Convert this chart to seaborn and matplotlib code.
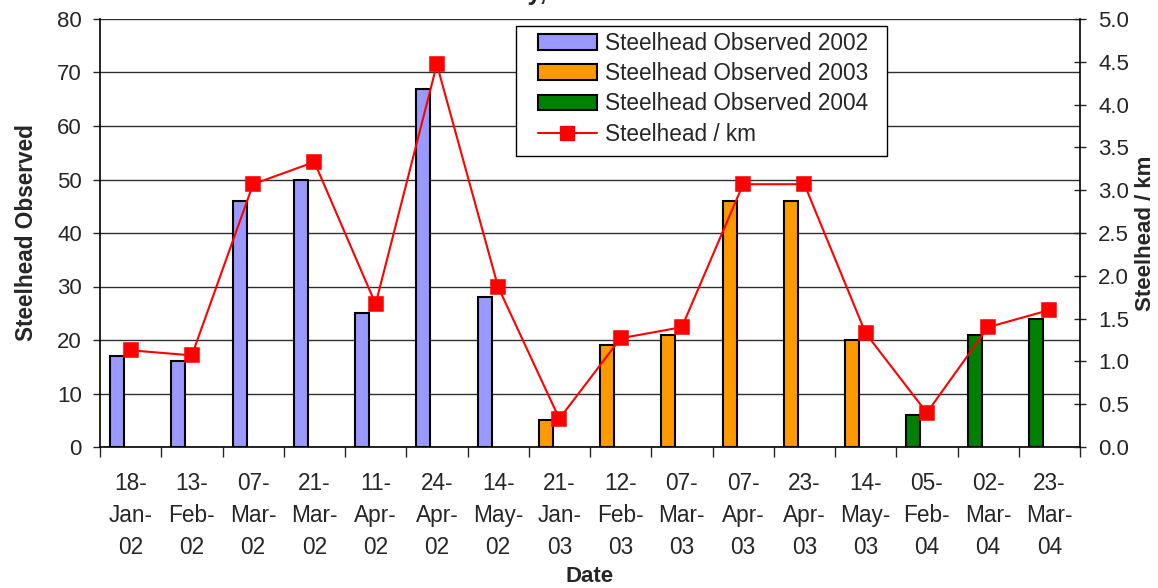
import matplotlib
matplotlib.use('Agg')
import matplotlib.pyplot as plt
import matplotlib.ticker as mticker
from matplotlib.patches import Patch, Rectangle
from matplotlib.lines import Line2D
import seaborn as sns
import pandas as pd

# survey dates (x categories)
dates = ['18-\nJan-\n02', '13-\nFeb-\n02', '07-\nMar-\n02', '21-\nMar-\n02',
         '11-\nApr-\n02', '24-\nApr-\n02', '14-\nMay-\n02', '21-\nJan-\n03',
         '12-\nFeb-\n03', '07-\nMar-\n03', '07-\nApr-\n03', '23-\nApr-\n03',
         '14-\nMay-\n03', '05-\nFeb-\n04', '02-\nMar-\n04', '23-\nMar-\n04']
years = ['2002'] * 7 + ['2003'] * 6 + ['2004'] * 3
observed = [17, 16, 46, 50, 25, 67, 28, 5, 19, 21, 46, 46, 20, 6, 21, 24]
per_km = [1.13, 1.07, 3.07, 3.33, 1.67, 4.47, 1.87, 0.33, 1.27, 1.40,
          3.07, 3.07, 1.33, 0.40, 1.40, 1.60]

year_colors = {'2002': '#9999FF', '2003': '#FF9900', '2004': '#008000'}

df = pd.DataFrame({'Date': dates, 'Year': years, 'Observed': observed, 'PerKm': per_km})

sns.set_style('ticks')
plt.rcParams['font.family'] = ['Liberation Sans', 'DejaVu Sans']
plt.rcParams['font.size'] = 16

W, H = 1158, 588
fig = plt.figure(figsize=(W / 100, H / 100), dpi=100)
ax = fig.add_axes([100 / W, 1 - 447 / H, 980 / W, 428 / H])

sns.barplot(data=df, x='Date', y='Observed', hue='Year', order=dates,
            palette=year_colors, saturation=1, dodge=False, width=0.23,
            edgecolor='black', linewidth=1.5, legend=False, ax=ax, zorder=3)
# bars sit on the left side of each date slot
for p in ax.patches:
    p.set_x(p.get_x() - 0.22)

ax.set_xlim(-0.5, len(dates) - 0.5)
ax.set_ylim(0, 80)
ax.set_yticks(range(0, 81, 10))
ax.yaxis.grid(True, color='#303030', linewidth=1)
ax.set_axisbelow(True)
ax.tick_params(axis='y', direction='out', length=5, width=1, labelsize=16, pad=8)
ax.tick_params(axis='x', which='major', length=0, labelsize=16.3, pad=18)
ax.set_xticks([i - 0.5 for i in range(len(dates) + 1)], minor=True)
ax.tick_params(axis='x', which='minor', direction='out', length=7, width=1)
for lbl in ax.get_xticklabels():
    lbl.set_linespacing(1.5)
ax.set_xlabel('Date', fontweight='bold', fontsize=16, labelpad=5)
ax.set_ylabel('Steelhead Observed', fontweight='bold', fontsize=16.3, labelpad=14)
for s in ['top', 'right']:
    ax.spines[s].set_visible(False)
ax.spines['left'].set_linewidth(1.2)
ax.spines['bottom'].set_linewidth(1.2)
ax.spines['left'].set_color('black')
ax.spines['bottom'].set_color('black')

ax2 = ax.twinx()
sns.pointplot(data=df, x='Date', y='PerKm', order=dates, color='#FF0000',
              marker='s', markersize=10, linewidth=1.5, ax=ax2)
ax2.set_xlim(-0.5, len(dates) - 0.5)
ax2.set_ylim(0, 5)
ax2.yaxis.set_major_locator(mticker.MultipleLocator(0.5))
ax2.yaxis.set_major_formatter(mticker.FormatStrFormatter('%.1f'))
ax2.tick_params(axis='y', direction='inout', length=8, width=1, labelsize=16, pad=9)
ax2.set_ylabel('Steelhead / km', fontweight='bold', fontsize=16, labelpad=4.5)
ax2.grid(False)
for s in ['top', 'left', 'bottom']:
    ax2.spines[s].set_visible(False)
ax2.spines['right'].set_linewidth(1.2)
ax2.spines['right'].set_color('black')

# legend: white box with black border, entries placed inside it
ax2.add_patch(Rectangle((516 / W, 1 - 156 / H), 371 / W, 130 / H,
                        transform=fig.transFigure, facecolor='white',
                        edgecolor='black', linewidth=1, zorder=4.9, clip_on=False))
handles = [Patch(facecolor=year_colors[y], edgecolor='black', linewidth=1.5,
                 label=f'Steelhead Observed {y}') for y in ['2002', '2003', '2004']]
handles.append(Line2D([], [], color='#FF0000', marker='s', markersize=10,
                      linewidth=1.5, label='Steelhead / km'))
leg = ax2.legend(handles=handles, loc='upper left',
                 bbox_to_anchor=(538 / W, 1 - 32 / H), bbox_transform=fig.transFigure,
                 borderaxespad=0, borderpad=0, frameon=False, fontsize=16.3,
                 handlelength=2.6, handleheight=0.7, handletextpad=0.35,
                 labelspacing=0.32)
leg.set_zorder(5)

# title cut off at the top edge of the image
fig.text(547 / W, 1.0, 'Survey,', ha='right', va='baseline',
         fontweight='bold', fontsize=18)

fig.savefig('out.png', dpi=100)
